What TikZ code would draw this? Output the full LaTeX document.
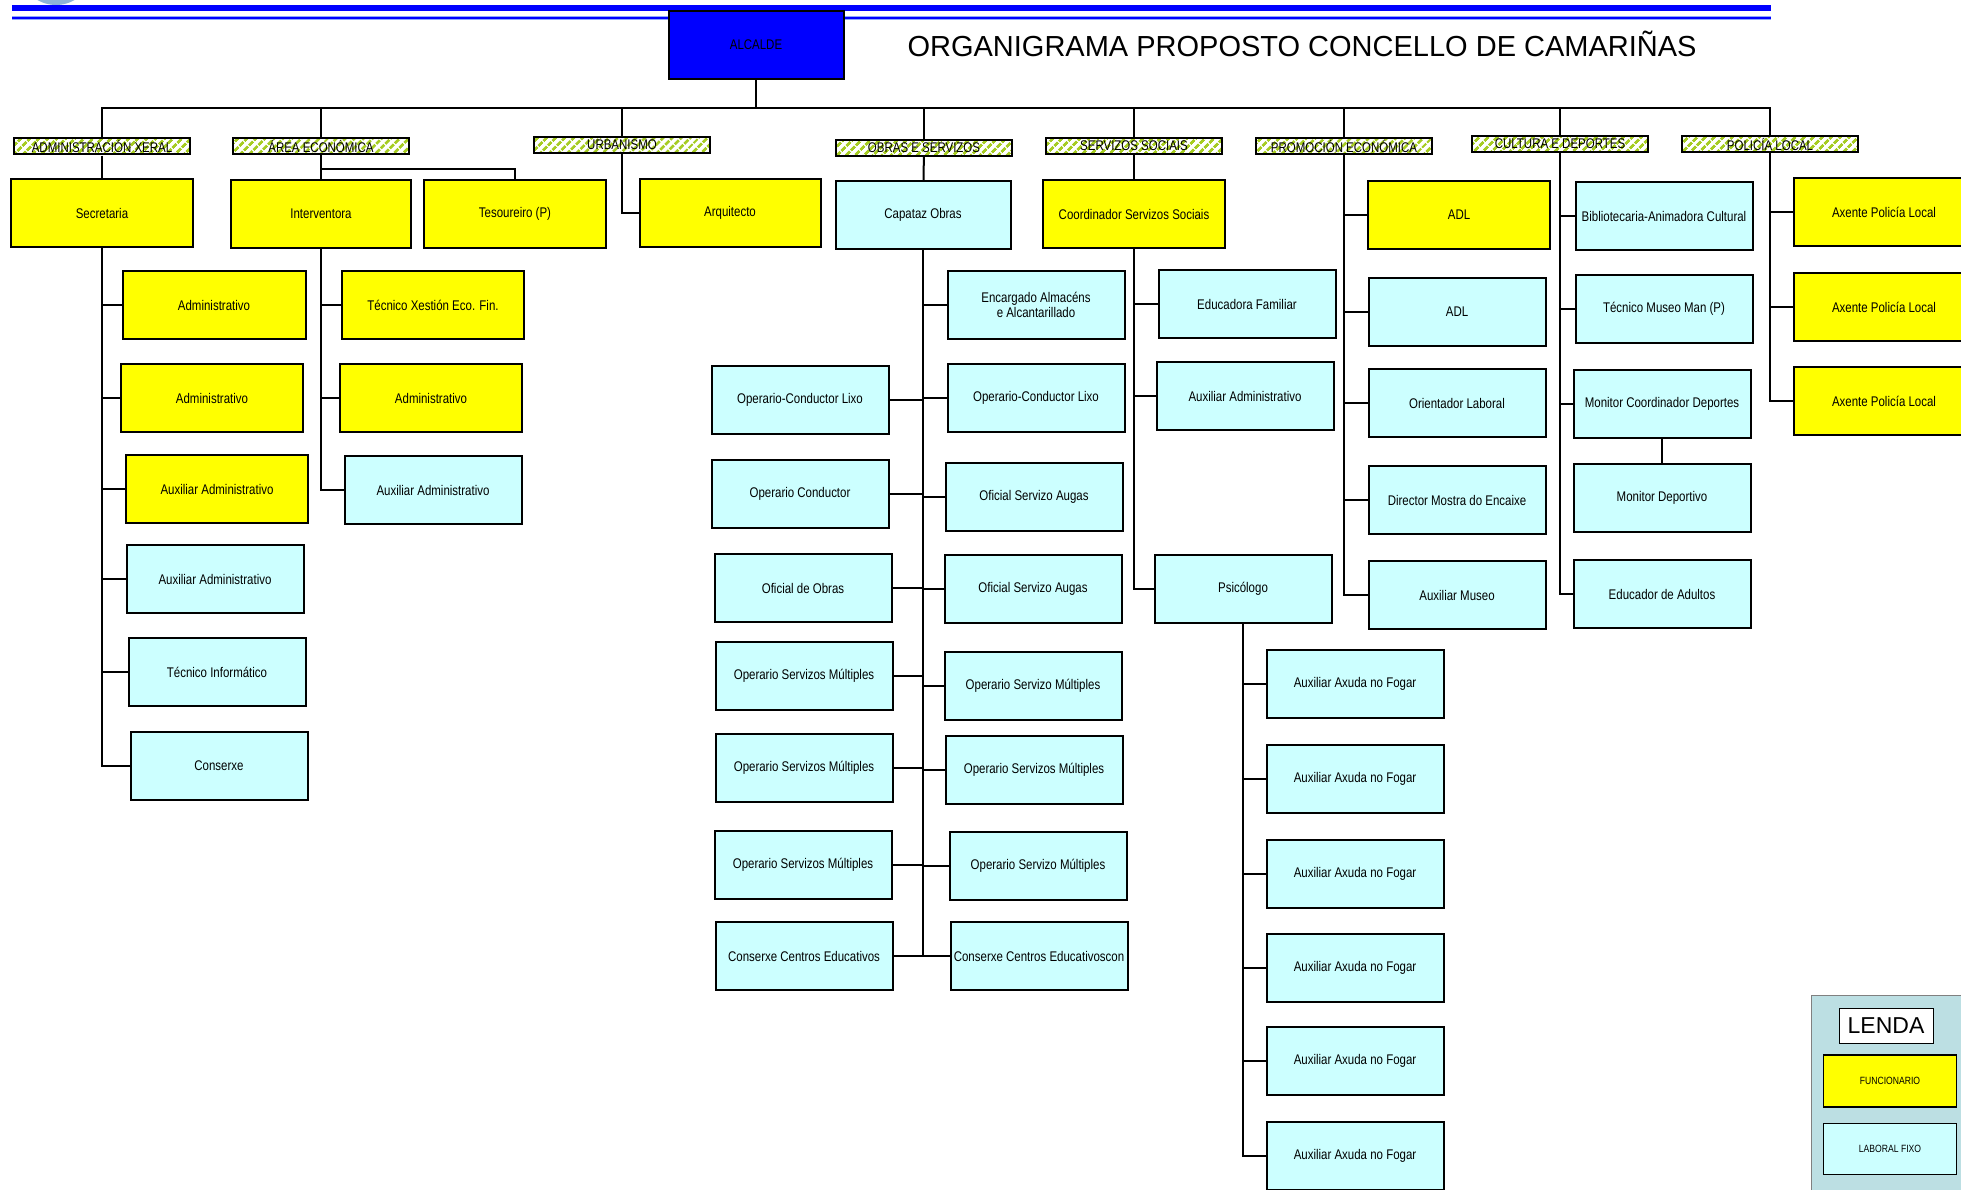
\documentclass[tikz,border=0pt]{standalone}
\usepackage{fontspec}
\setmainfont{Liberation Sans}
\newfontfamily\postofont[FakeStretch=0.82]{Liberation Sans}
\usepackage{tikz}
\usetikzlibrary{patterns.meta}
\definecolor{amarelo}{HTML}{FFFF00}
\definecolor{celeste}{HTML}{CCFFFF}
\definecolor{azul}{HTML}{0000FF}
\definecolor{azulclaro}{HTML}{8FA8FF}
\definecolor{verde}{HTML}{A6CC22}
\definecolor{fondolenda}{HTML}{BCDFE3}
\definecolor{escudo}{HTML}{8EB4D8}

\begin{document}
\begin{tikzpicture}[x=1pt,y=-1pt,
	posto/.style={draw,line width=2pt,minimum width=177pt,minimum height=68pt,inner sep=0pt,align=center,font=\postofont\fontsize{14}{15}\selectfont},
	func/.style={posto,fill=amarelo},
	laboral/.style={posto,fill=celeste},
	areabox/.style={draw,line width=2pt,minimum width=176pt,minimum height=16pt,inner sep=0pt,font=\postofont\fontsize{14}{15}\selectfont,preaction={fill=white},pattern={Lines[angle=45,distance=6.4pt,line width=3pt]},pattern color=verde},
	enlace/.style={line width=2pt}]
	\useasboundingbox (0,0) rectangle (1961,1189);

	\fill[escudo] (56,-32) circle [radius=37];
	\draw[azul,line width=6pt] (12,8) -- (1771,8);
	\draw[azulclaro,line width=4pt] (12,17.5) -- (1771,17.5);
	\draw[azul,line width=2pt] (12,17.5) -- (1771,17.5);

	\node[posto,fill=azul,minimum width=175pt] (alcalde) at (756,45) {ALCALDE};
	\node[anchor=west,font=\fontsize{29}{32}\selectfont] (titulo) at (904,44) {ORGANIGRAMA PROPOSTO CONCELLO DE CAMARIÑAS};

	\node[areabox] (xeral) at (102,146) {ADMINISTRACIÓN XERAL};
	\node[areabox] (economica) at (321,146) {ÁREA ECONÓMICA};
	\node[areabox] (urbanismo) at (622,145) {URBANISMO};
	\node[areabox] (obras) at (924,148) {OBRAS E SERVIZOS};
	\node[areabox] (sociais) at (1134,146) {SERVIZOS SOCIAIS};
	\node[areabox] (promocion) at (1344,146) {PROMOCIÓN ECONÓMICA};
	\node[areabox] (cultura) at (1560,144) {CULTURA E DEPORTES};
	\node[areabox] (policia) at (1770,144) {POLICÍA LOCAL};

	\node[func,minimum width=182pt] (secretaria) at (102,213) {Secretaria};
	\node[func,minimum width=183pt] (admA) at (214,305) {Administrativo};
	\node[func,minimum width=182pt] (admB) at (212,398) {Administrativo};
	\node[func,minimum width=182pt] (auxA) at (217,489) {Auxiliar  Administrativo};
	\node[laboral] (auxB) at (215,579) {Auxiliar  Administrativo};
	\node[laboral] (informatico) at (217,672) {Técnico  Informático};
	\node[laboral] (conserxe) at (219,766) {Conserxe};

	\node[func,minimum width=180pt] (interventora) at (321,214) {Interventora};
	\node[func,minimum width=182pt] (tesoureiro) at (515,214) {Tesoureiro  (P)};
	\node[func,minimum width=182pt] (xestion) at (433,305) {Técnico  Xestión  Eco.  Fin.};
	\node[func,minimum width=182pt] (admC) at (431,398) {Administrativo};
	\node[laboral] (auxC) at (433,490) {Auxiliar  Administrativo};

	\node[func,minimum width=181pt] (arquitecto) at (730,213) {Arquitecto};

	\node[laboral,minimum width=175pt] (capataz) at (923,215) {Capataz  Obras};
	\node[laboral] (encargado) at (1036,305) {Encargado  Almacéns\\e Alcantarillado};
	\node[laboral] (lixoB) at (1036,398) {Operario-Conductor  Lixo};
	\node[laboral] (augasA) at (1034,497) {Oficial  Servizo  Augas};
	\node[laboral] (augasB) at (1033,589) {Oficial  Servizo  Augas};
	\node[laboral] (multD) at (1033,686) {Operario  Servizo  Múltiples};
	\node[laboral] (multE) at (1034,770) {Operario  Servizos  Múltiples};
	\node[laboral] (multF) at (1038,866) {Operario  Servizo  Múltiples};
	\node[laboral] (centrosB) at (1039,956) {Conserxe  Centros  Educativoscon};
	\node[laboral] (lixoA) at (800,400) {Operario-Conductor  Lixo};
	\node[laboral] (condutor) at (800,494) {Operario  Conductor};
	\node[laboral] (oficialobras) at (803,588) {Oficial  de  Obras};
	\node[laboral] (multA) at (804,676) {Operario  Servizos  Múltiples};
	\node[laboral] (multB) at (804,768) {Operario  Servizos  Múltiples};
	\node[laboral] (multC) at (803,865) {Operario  Servizos  Múltiples};
	\node[laboral] (centrosA) at (804,956) {Conserxe  Centros  Educativos};

	\node[func,minimum width=182pt] (coordinador) at (1134,214) {Coordinador  Servizos  Sociais};
	\node[laboral] (educadora) at (1247,304) {Educadora  Familiar};
	\node[laboral] (auxD) at (1245,396) {Auxiliar  Administrativo};
	\node[laboral] (psicologo) at (1243,589) {Psicólogo};
	\node[laboral] (fogarA) at (1355,684) {Auxiliar  Axuda  no  Fogar};
	\node[laboral] (fogarB) at (1355,779) {Auxiliar  Axuda  no  Fogar};
	\node[laboral] (fogarC) at (1355,874) {Auxiliar  Axuda  no  Fogar};
	\node[laboral] (fogarD) at (1355,968) {Auxiliar  Axuda  no  Fogar};
	\node[laboral] (fogarE) at (1355,1061) {Auxiliar  Axuda  no  Fogar};
	\node[laboral] (fogarF) at (1355,1156) {Auxiliar  Axuda  no  Fogar};

	\node[func,minimum width=182pt] (adlA) at (1459,215) {ADL};
	\node[laboral] (adlB) at (1457,312) {ADL};
	\node[laboral] (orientador) at (1457,403) {Orientador  Laboral};
	\node[laboral] (director) at (1457,500) {Director  Mostra  do  Encaixe};
	\node[laboral] (auxmuseo) at (1457,595) {Auxiliar  Museo};

	\node[laboral] (bibliotecaria) at (1664,216) {Bibliotecaria-Animadora  Cultural};
	\node[laboral] (tecmuseo) at (1664,309) {Técnico  Museo  Man  (P)};
	\node[laboral] (moncoord) at (1662,404) {Monitor  Coordinador  Deportes};
	\node[laboral] (mondeportivo) at (1662,498) {Monitor  Deportivo};
	\node[laboral] (adultos) at (1662,594) {Educador  de  Adultos};

	\node[func,minimum width=180pt] (axenteA) at (1884,212) {Axente  Policía  Local};
	\node[func,minimum width=180pt] (axenteB) at (1884,307) {Axente  Policía  Local};
	\node[func,minimum width=180pt] (axenteC) at (1884,401) {Axente  Policía  Local};

	\coordinate (bus) at (756,108);
	\draw[enlace] (alcalde) -- (bus);
	\draw[enlace] (xeral.north) |- (bus) -| (policia.north);
	\draw[enlace] (economica.north) -- (economica.north |- bus);
	\draw[enlace] (urbanismo.north) -- (urbanismo.north |- bus);
	\draw[enlace] (obras.north) -- (obras.north |- bus);
	\draw[enlace] (sociais.north) -- (sociais.north |- bus);
	\draw[enlace] (promocion.north) -- (promocion.north |- bus);
	\draw[enlace] (cultura.north) -- (cultura.north |- bus);

	\draw[enlace] (xeral) -- (secretaria);
	\draw[enlace] (secretaria.south) |- (admA.west);
	\draw[enlace] (secretaria.south) |- (admB.west);
	\draw[enlace] (secretaria.south) |- (auxA.west);
	\draw[enlace] (secretaria.south) |- (auxB.west);
	\draw[enlace] (secretaria.south) |- (informatico.west);
	\draw[enlace] (secretaria.south) |- (conserxe.west);

	\draw[enlace] (economica) -- (interventora);
	\draw[enlace] (economica.south) -- ++(0,14) -| (tesoureiro.north);
	\draw[enlace] (interventora.south) |- (xestion.west);
	\draw[enlace] (interventora.south) |- (admC.west);
	\draw[enlace] (interventora.south) |- (auxC.west);

	\draw[enlace] (urbanismo.south) |- (arquitecto.west);

	\draw[enlace] (obras) -- (capataz);
	\draw[enlace] (capataz.south) |- (encargado.west);
	\draw[enlace] (capataz.south) |- (lixoB.west);
	\draw[enlace] (capataz.south) |- (augasA.west);
	\draw[enlace] (capataz.south) |- (augasB.west);
	\draw[enlace] (capataz.south) |- (multD.west);
	\draw[enlace] (capataz.south) |- (multE.west);
	\draw[enlace] (capataz.south) |- (multF.west);
	\draw[enlace] (capataz.south) |- (centrosB.west);
	\draw[enlace] (capataz.south) |- (lixoA.east);
	\draw[enlace] (capataz.south) |- (condutor.east);
	\draw[enlace] (capataz.south) |- (oficialobras.east);
	\draw[enlace] (capataz.south) |- (multA.east);
	\draw[enlace] (capataz.south) |- (multB.east);
	\draw[enlace] (capataz.south) |- (multC.east);
	\draw[enlace] (capataz.south) |- (centrosA.east);

	\draw[enlace] (sociais) -- (coordinador);
	\draw[enlace] (coordinador.south) |- (educadora.west);
	\draw[enlace] (coordinador.south) |- (auxD.west);
	\draw[enlace] (coordinador.south) |- (psicologo.west);
	\draw[enlace] (psicologo.south) |- (fogarA.west);
	\draw[enlace] (psicologo.south) |- (fogarB.west);
	\draw[enlace] (psicologo.south) |- (fogarC.west);
	\draw[enlace] (psicologo.south) |- (fogarD.west);
	\draw[enlace] (psicologo.south) |- (fogarE.west);
	\draw[enlace] (psicologo.south) |- (fogarF.west);

	\draw[enlace] (promocion.south) |- (adlA.west);
	\draw[enlace] (promocion.south) |- (adlB.west);
	\draw[enlace] (promocion.south) |- (orientador.west);
	\draw[enlace] (promocion.south) |- (director.west);
	\draw[enlace] (promocion.south) |- (auxmuseo.west);

	\draw[enlace] (cultura.south) |- (bibliotecaria.west);
	\draw[enlace] (cultura.south) |- (tecmuseo.west);
	\draw[enlace] (cultura.south) |- (moncoord.west);
	\draw[enlace] (cultura.south) |- (adultos.west);
	\draw[enlace] (moncoord) -- (mondeportivo);

	\draw[enlace] (policia.south) |- (axenteA.west);
	\draw[enlace] (policia.south) |- (axenteB.west);
	\draw[enlace] (policia.south) |- (axenteC.west);

	\node[draw=gray,line width=1pt,fill=fondolenda,minimum width=170pt,minimum height=210pt,anchor=north west] (lenda) at (1811,995) {};
	\node[draw,line width=1pt,fill=white,minimum width=94pt,minimum height=35pt,inner sep=0pt,font=\fontsize{23}{26}\selectfont] (lendatitulo) at (1886,1026) {LENDA};
	\node[func,line width=1.2pt,minimum width=133pt,minimum height=52pt,font=\postofont\fontsize{10.5}{12}\selectfont] (funcionario) at (1890,1081) {FUNCIONARIO};
	\node[laboral,line width=1.2pt,minimum width=133pt,minimum height=51pt,font=\postofont\fontsize{10.5}{12}\selectfont] (laboralfixo) at (1890,1149) {LABORAL FIXO};

\end{tikzpicture}
\end{document}
